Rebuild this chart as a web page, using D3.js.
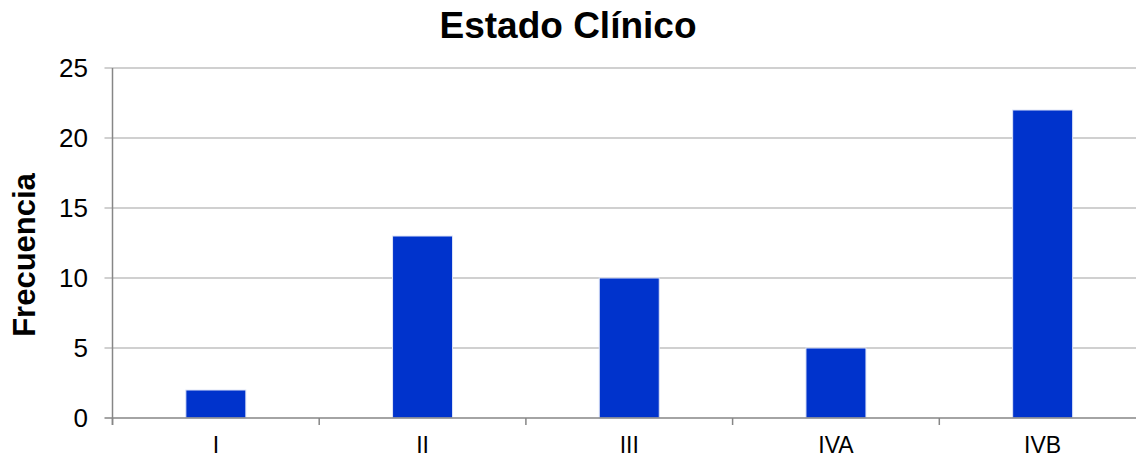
<!DOCTYPE html>
<html>
<head>
<meta charset="utf-8">
<script src="https://cdn.jsdelivr.net/npm/d3@7"></script>
<style>
  html, body { margin: 0; padding: 0; background: #fff; }
  svg { display: block; font-family: "Liberation Sans", Arial, sans-serif; }
</style>
</head>
<body>
<svg id="chart" width="1136" height="457"></svg>
<script>
// Clinical stage frequency data
const categories = ["I", "II", "III", "IVA", "IVB"];
const frequencies = [2, 13, 10, 5, 22];
const yTicks = [0, 5, 10, 15, 20, 25];
const titleText = "Estado Clínico";
const yLabelText = "Frecuencia";

(function () {
  const svg = d3.select("#chart");
  const W = 1136;
  const plotLeft = 112.5, plotRight = 1146, plotTop = 68, plotBottom = 418;

  const x = d3.scaleBand().domain(categories).range([plotLeft, plotRight]).padding(0);
  const y = d3.scaleLinear().domain([0, 25]).range([plotBottom, plotTop]);

  // horizontal gridlines with short ticks to the left of the axis
  svg.append("g").selectAll("line").data(yTicks.filter(d => d > 0)).join("line")
    .attr("x1", plotLeft - 8).attr("x2", W)
    .attr("y1", d => y(d)).attr("y2", d => y(d))
    .attr("stroke", "#c0c0c0").attr("stroke-width", 1.5);

  // y tick labels
  svg.append("g").selectAll("text").data(yTicks).join("text")
    .attr("x", 88).attr("y", d => y(d) + 9)
    .attr("text-anchor", "end")
    .attr("font-size", 26).attr("fill", "#000")
    .text(d => d);

  // bars
  const barW = 60;
  svg.append("g").selectAll("rect").data(categories).join("rect")
    .attr("x", d => x(d) + x.bandwidth() / 2 - barW / 2)
    .attr("y", (d, i) => y(frequencies[i]))
    .attr("width", barW)
    .attr("height", (d, i) => y(0) - y(frequencies[i]))
    .attr("fill", "#0033cc")
    .attr("stroke", "#dfe5f7").attr("stroke-width", 1);

  // axis lines
  svg.append("line")
    .attr("x1", plotLeft).attr("x2", plotLeft).attr("y1", plotTop).attr("y2", plotBottom + 7)
    .attr("stroke", "#868686").attr("stroke-width", 1.5);
  svg.append("line")
    .attr("x1", plotLeft - 8).attr("x2", W).attr("y1", plotBottom).attr("y2", plotBottom)
    .attr("stroke", "#868686").attr("stroke-width", 1.5);

  // category ticks at band boundaries
  const boundaries = categories.map(d => x(d)).concat([x(categories[categories.length - 1]) + x.bandwidth()]);
  svg.append("g").selectAll("line").data(boundaries).join("line")
    .attr("x1", d => d).attr("x2", d => d)
    .attr("y1", plotBottom).attr("y2", plotBottom + 7)
    .attr("stroke", "#868686").attr("stroke-width", 1.5);

  // category labels
  svg.append("g").selectAll("text").data(categories).join("text")
    .attr("x", d => x(d) + x.bandwidth() / 2)
    .attr("y", 453)
    .attr("text-anchor", "middle")
    .attr("font-size", 23).attr("fill", "#000")
    .text(d => d);

  // title
  svg.append("text")
    .attr("x", 568).attr("y", 38)
    .attr("text-anchor", "middle")
    .attr("font-size", 37).attr("font-weight", "bold")
    .text(titleText);

  // y axis label
  svg.append("text")
    .attr("transform", "translate(35,255) rotate(-90)")
    .attr("text-anchor", "middle")
    .attr("font-size", 31).attr("font-weight", "bold")
    .text(yLabelText);
})();
</script>
</body>
</html>
